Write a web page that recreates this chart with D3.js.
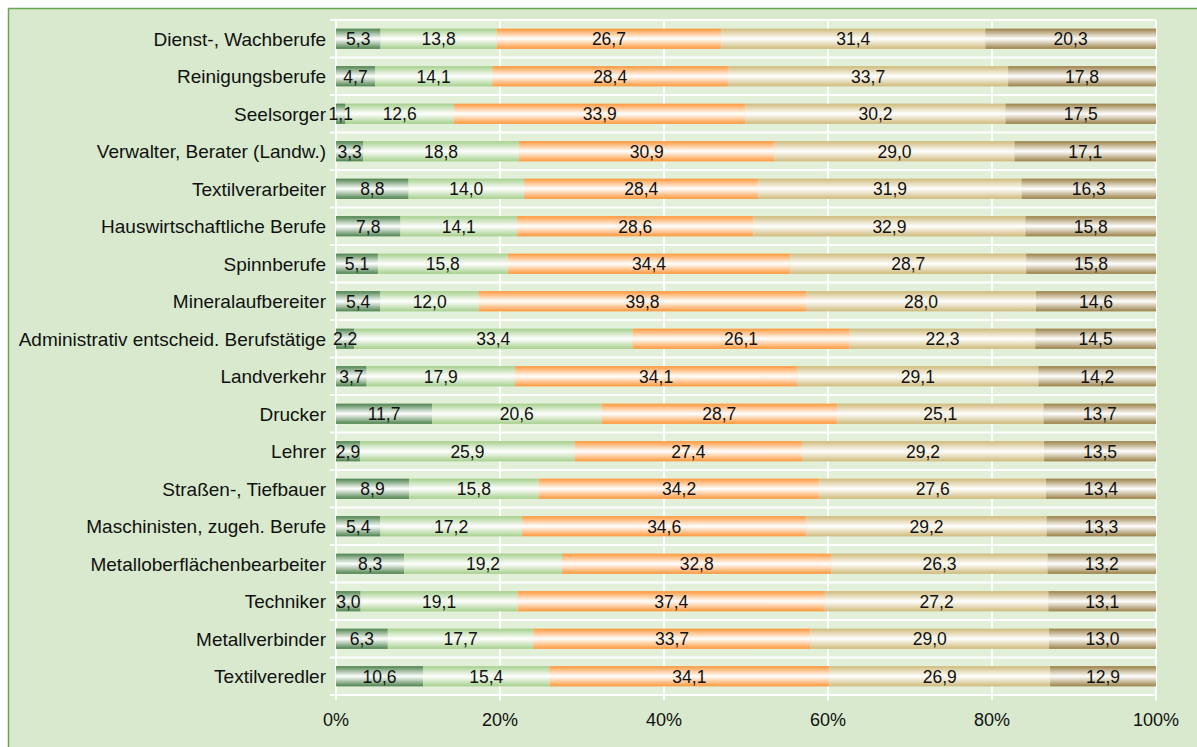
<!DOCTYPE html>
<html>
<head>
<meta charset="utf-8">
<script src="https://cdn.jsdelivr.net/npm/d3@7"></script>
<style>
  body { margin: 0; background: #fff; }
  text { font-family: "Liberation Sans", Arial, sans-serif; font-size: 17.5px; fill: #111; }
  .cat { font-size: 19px; }
  .tick { font-size: 18px; }
</style>
</head>
<body>
<svg width="1197" height="747"></svg>
<script>
// categories, top to bottom
var categories = [
  "Dienst-, Wachberufe", "Reinigungsberufe", "Seelsorger", "Verwalter, Berater (Landw.)",
  "Textilverarbeiter", "Hauswirtschaftliche Berufe", "Spinnberufe", "Mineralaufbereiter",
  "Administrativ entscheid. Berufstätige", "Landverkehr", "Drucker", "Lehrer",
  "Straßen-, Tiefbauer", "Maschinisten, zugeh. Berufe", "Metalloberflächenbearbeiter",
  "Techniker", "Metallverbinder", "Textilveredler"
];

// five series (one value per category)
var s1 = [5.3, 4.7, 1.1, 3.3, 8.8, 7.8, 5.1, 5.4, 2.2, 3.7, 11.7, 2.9, 8.9, 5.4, 8.3, 3.0, 6.3, 10.6];
var s2 = [13.8, 14.1, 12.6, 18.8, 14.0, 14.1, 15.8, 12.0, 33.4, 17.9, 20.6, 25.9, 15.8, 17.2, 19.2, 19.1, 17.7, 15.4];
var s3 = [26.7, 28.4, 33.9, 30.9, 28.4, 28.6, 34.4, 39.8, 26.1, 34.1, 28.7, 27.4, 34.2, 34.6, 32.8, 37.4, 33.7, 34.1];
var s4 = [31.4, 33.7, 30.2, 29.0, 31.9, 32.9, 28.7, 28.0, 22.3, 29.1, 25.1, 29.2, 27.6, 29.2, 26.3, 27.2, 29.0, 26.9];
var s5 = [20.3, 17.8, 17.5, 17.1, 16.3, 15.8, 15.8, 14.6, 14.5, 14.2, 13.7, 13.5, 13.4, 13.3, 13.2, 13.1, 13.0, 12.9];

var series = [s1, s2, s3, s4, s5];
var seriesColors = ["#4d824d", "#a6cf8c", "#ff973a", "#cfba7a", "#9a8046"];
var xTicks = [0, 0.2, 0.4, 0.6, 0.8, 1];

var svg = d3.select("svg");

// outer chart area (right/bottom edges run past the window)
svg.append("rect")
    .attr("x", 8.5).attr("y", 8.5)
    .attr("width", 1200).attr("height", 760)
    .attr("fill", "#d8e9ce")
    .attr("stroke", "#6aa84f")
    .attr("stroke-width", 1.5);

var plotLeft = 336, plotRight = 1156, plotTop = 20, plotBottom = 695;

var x = d3.scaleLinear().domain([0, 1]).range([plotLeft, plotRight]);
var y = d3.scaleBand().domain(categories).range([plotTop, plotBottom]).paddingInner(0.46).paddingOuter(0.23);

// plot background
svg.append("rect")
    .attr("x", plotLeft).attr("y", plotTop)
    .attr("width", plotRight - plotLeft).attr("height", plotBottom - plotTop)
    .attr("fill", "#e2efd9");

// gradients: colour at the edges, white in the middle
var defs = svg.append("defs");
seriesColors.forEach(function(c, i) {
  var g = defs.append("linearGradient")
      .attr("id", "grad" + i)
      .attr("x1", 0).attr("y1", 0).attr("x2", 0).attr("y2", 1);
  g.append("stop").attr("offset", "0%").attr("stop-color", c);
  g.append("stop").attr("offset", "50%").attr("stop-color", "#ffffff");
  g.append("stop").attr("offset", "100%").attr("stop-color", c);
});

// gridlines at category boundaries and 20% steps
var boundaries = d3.range(categories.length + 1).map(function(i) {
  return plotTop + i * (plotBottom - plotTop) / categories.length;
});

svg.append("g").selectAll("line")
    .data(boundaries)
    .enter().append("line")
    .attr("x1", plotLeft - 6).attr("x2", plotRight)
    .attr("y1", function(d) { return d; }).attr("y2", function(d) { return d; })
    .attr("stroke", "#fff").attr("stroke-width", 2);

svg.append("g").selectAll("line")
    .data(xTicks)
    .enter().append("line")
    .attr("x1", function(d) { return x(d); }).attr("x2", function(d) { return x(d); })
    .attr("y1", plotTop).attr("y2", plotBottom + 5)
    .attr("stroke", "#fff").attr("stroke-width", 2);

// stacked, normalised bars
var rows = categories.map(function(cat, i) {
  var vals = series.map(function(s) { return s[i]; });
  var total = d3.sum(vals);
  var acc = 0;
  return vals.map(function(v, k) {
    var seg = { cat: cat, k: k, v: v, x0: acc / total, x1: (acc + v) / total };
    acc += v;
    return seg;
  });
});
var segs = [].concat.apply([], rows);

var bars = svg.append("g");
bars.selectAll("rect")
    .data(segs)
    .enter().append("rect")
    .attr("x", function(d) { return x(d.x0); })
    .attr("y", function(d) { return y(d.cat); })
    .attr("width", function(d) { return x(d.x1) - x(d.x0); })
    .attr("height", y.bandwidth())
    .attr("fill", function(d) { return "url(#grad" + d.k + ")"; });

bars.selectAll("text")
    .data(segs)
    .enter().append("text")
    .attr("x", function(d) { return (x(d.x0) + x(d.x1)) / 2; })
    .attr("y", function(d) { return y(d.cat) + y.bandwidth() / 2; })
    .attr("dy", "0.36em")
    .attr("text-anchor", "middle")
    .text(function(d) { return d.v.toFixed(1).replace(".", ","); });

// category labels
svg.append("g").selectAll("text")
    .data(categories)
    .enter().append("text")
    .attr("class", "cat")
    .attr("x", plotLeft - 10)
    .attr("y", function(d) { return y(d) + y.bandwidth() / 2; })
    .attr("dy", "0.36em")
    .attr("text-anchor", "end")
    .text(function(d) { return d; });

// x tick labels
svg.append("g").selectAll("text")
    .data(xTicks)
    .enter().append("text")
    .attr("class", "tick")
    .attr("x", function(d) { return x(d); })
    .attr("y", 720)
    .attr("dy", "0.36em")
    .attr("text-anchor", "middle")
    .text(function(d) { return Math.round(d * 100) + "%"; });
</script>
</body>
</html>
